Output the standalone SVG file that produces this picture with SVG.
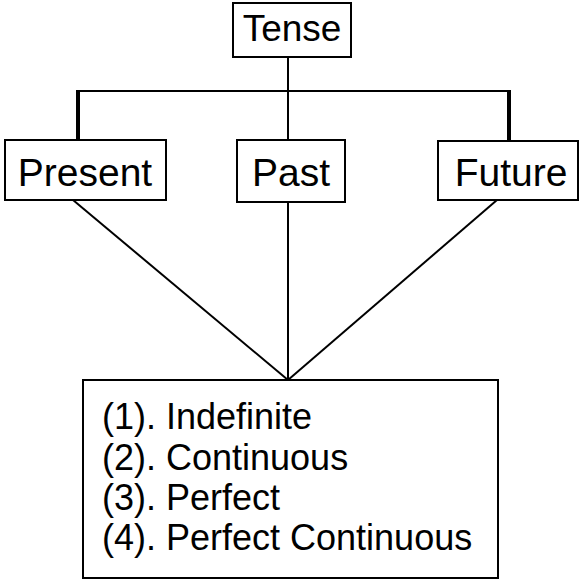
<svg xmlns="http://www.w3.org/2000/svg" width="581" height="582" viewBox="0 0 581 582">
<style>
.box{fill:#fff;stroke:#000;stroke-width:2}
.lbl{font-family:"Liberation Sans",Arial,sans-serif;font-size:39px;fill:#000}
.item{font-family:"Liberation Sans",Arial,sans-serif;font-size:36px;fill:#000}
.ln{stroke:#000;stroke-width:2;fill:none}
.thick{stroke:#000;stroke-width:4;fill:none}
</style>
<rect width="581" height="582" fill="#fff"/>
<g id="connectors">
<line class="ln" x1="288" y1="57" x2="288" y2="140"/>
<line class="ln" x1="76" y1="91" x2="511" y2="91"/>
<line class="thick" x1="78" y1="90" x2="78" y2="140"/>
<line class="thick" x1="509" y1="90" x2="509" y2="141"/>
<line class="ln" x1="73" y1="200" x2="288" y2="380"/>
<line class="ln" x1="288" y1="202" x2="288" y2="380"/>
<line class="ln" x1="497" y1="200" x2="288" y2="380"/>
</g>
<g id="tense">
<rect class="box" x="233" y="3" width="118" height="54"/>
<text class="lbl" x="292" y="41" text-anchor="middle" style="font-size:37px">Tense</text>
</g>
<g id="present">
<rect class="box" x="5" y="140" width="161" height="60"/>
<text class="lbl" x="85" y="186" text-anchor="middle">Present</text>
</g>
<g id="past">
<rect class="box" x="237" y="140" width="108" height="62"/>
<text class="lbl" x="291" y="186" text-anchor="middle">Past</text>
</g>
<g id="future">
<rect class="box" x="438" y="141" width="140" height="59"/>
<text class="lbl" x="511" y="186" text-anchor="middle">Future</text>
</g>
<g id="aspects">
<rect class="box" x="83" y="380" width="415" height="198"/>
<text class="item" x="102" y="429">(1). Indefinite</text>
<text class="item" x="102" y="469.5">(2). Continuous</text>
<text class="item" x="102" y="510">(3). Perfect</text>
<text class="item" x="102" y="550">(4). Perfect Continuous</text>
</g>
</svg>
